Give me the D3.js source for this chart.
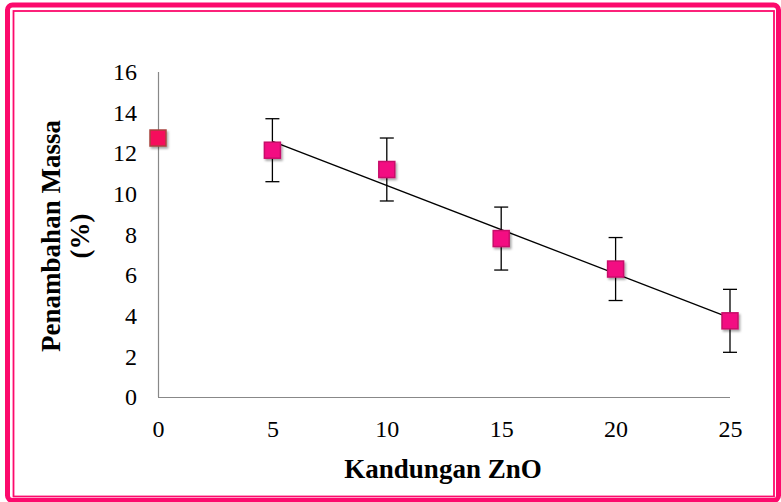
<!DOCTYPE html>
<html>
<head>
<meta charset="utf-8">
<script src="https://cdn.jsdelivr.net/npm/d3@7/dist/d3.min.js"></script>
<style>
  body { margin: 0; background: #fff; }
  svg, svg text { font-family: "Liberation Serif", "Times New Roman", serif; }
  svg { display: block; }
</style>
</head>
<body>
<div id="chart"></div>
<script>
// ZnO content (%) and mass gain (%)
const zno = [0, 5, 10, 15, 20, 25];
const massGain = [12.75, 12.15, 11.2, 7.8, 6.3, 3.75];
const errBar = [0, 1.55, 1.55, 1.55, 1.55, 1.55];
const xTicks = [0, 5, 10, 15, 20, 25];
const yTicks = [0, 2, 4, 6, 8, 10, 12, 14, 16];

const W = 781, H = 502;
const margin = { top: 72, right: 51, bottom: 105, left: 158 };
const width = W - margin.left - margin.right;
const height = H - margin.top - margin.bottom;

const svg = d3.select("#chart").append("svg")
  .attr("width", W).attr("height", H);

// shadow for the markers
const defs = svg.append("defs");
const f = defs.append("filter").attr("id", "sh")
  .attr("x", "-30%").attr("y", "-30%").attr("width", "170%").attr("height", "170%");
f.append("feDropShadow").attr("dx", 1.5).attr("dy", 2).attr("stdDeviation", 1.2)
  .attr("flood-color", "#000").attr("flood-opacity", 0.35);

// double pink frame
svg.append("rect").attr("x", 7.5).attr("y", 5).attr("width", 771).attr("height", 495.5)
  .attr("rx", 5).attr("fill", "none").attr("stroke", "#fc0a6c").attr("stroke-width", 5);
svg.append("rect").attr("x", 13.5).attr("y", 11).attr("width", 760.5).attr("height", 485.5)
  .attr("fill", "none").attr("stroke", "#fc0a6c").attr("stroke-width", 1.8);

const g = svg.append("g").attr("transform", `translate(${margin.left},${margin.top})`);

const x = d3.scaleLinear().domain([0, 25]).range([0, width]);
const y = d3.scaleLinear().domain([0, 16]).range([height, 0]);

// axes (no tick marks, grey domain lines)
const xAxis = g.append("g").attr("transform", `translate(0,${height})`)
  .call(d3.axisBottom(x).tickValues(xTicks).tickSize(0).tickPadding(23));
const yAxis = g.append("g")
  .call(d3.axisLeft(y).tickValues(yTicks).tickSize(0).tickPadding(21));
[xAxis, yAxis].forEach(a => {
  a.attr("font-family", null);
  a.select(".domain").attr("stroke", "#888").attr("stroke-width", 1.2);
  a.selectAll("text").attr("font-size", 24).attr("fill", "#000")
    .style("font-family", "'Liberation Serif', 'Times New Roman', serif");
});
xAxis.select(".domain").attr("d", `M0,0.5H${width}`);
yAxis.select(".domain").attr("d", `M0.5,0V${height}`);

// linear trendline through points 5..25
const pts = zno.map((v, i) => [v, massGain[i]]).filter(d => d[0] >= 5);
const mx = d3.mean(pts, d => d[0]), my = d3.mean(pts, d => d[1]);
const slope = d3.sum(pts, d => (d[0] - mx) * (d[1] - my)) / d3.sum(pts, d => (d[0] - mx) ** 2);
const icpt = my - slope * mx;
g.append("line")
  .attr("x1", x(5)).attr("y1", y(icpt + slope * 5))
  .attr("x2", x(25)).attr("y2", y(icpt + slope * 25))
  .attr("stroke", "#000").attr("stroke-width", 1.3);

// error bars
const eb = g.selectAll(".eb").data(zno.map((v, i) => ({ x: v, y: massGain[i], e: errBar[i] })).filter(d => d.e > 0))
  .join("g").attr("class", "eb").attr("stroke", "#000").attr("stroke-width", 1.3);
eb.append("line").attr("x1", d => x(d.x)).attr("x2", d => x(d.x))
  .attr("y1", d => y(d.y + d.e)).attr("y2", d => y(d.y - d.e));
eb.append("line").attr("x1", d => x(d.x) - 7).attr("x2", d => x(d.x) + 7)
  .attr("y1", d => y(d.y + d.e)).attr("y2", d => y(d.y + d.e));
eb.append("line").attr("x1", d => x(d.x) - 7).attr("x2", d => x(d.x) + 7)
  .attr("y1", d => y(d.y - d.e)).attr("y2", d => y(d.y - d.e));

// markers
const s = 16;
g.selectAll(".mk").data(zno.map((v, i) => ({ x: v, y: massGain[i], i })))
  .join("rect").attr("class", "mk")
  .attr("x", d => x(d.x) - s / 2).attr("y", d => y(d.y) - s / 2)
  .attr("width", s).attr("height", s)
  .attr("fill", d => d.i === 0 ? "#f50a5c" : "#f30e82")
  .attr("stroke", d => d.i === 0 ? "#a8433f" : "#c70d6a")
  .attr("stroke-width", 1.5)
  .attr("filter", "url(#sh)");

// axis titles
svg.append("text").attr("x", margin.left + width / 2 - 1).attr("y", 478)
  .attr("text-anchor", "middle").attr("font-size", 27).attr("font-weight", "bold")
  .text("Kandungan ZnO");
const yt = svg.append("text").attr("transform", "translate(60,236) rotate(-90)")
  .attr("text-anchor", "middle").attr("font-size", 27).attr("font-weight", "bold");
yt.append("tspan").attr("x", 0).attr("dy", 0).text("Penambahan Massa");
yt.append("tspan").attr("x", 0).attr("dy", 29).text("(%)");
</script>
</body>
</html>
